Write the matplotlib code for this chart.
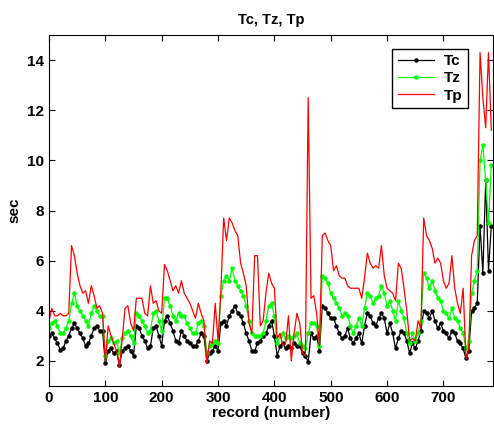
import numpy as np
import matplotlib
matplotlib.use("Agg")
import matplotlib.pyplot as plt

# records sampled every 5
records = np.arange(0, 790, 5)

tc = [3.0, 3.1, 2.9, 2.7, 2.45, 2.5, 2.8, 3.0, 3.3, 3.5, 3.3, 3.1, 2.9, 2.6, 2.7, 3.0, 3.3, 3.4, 3.2, 3.2,
      1.9, 2.4, 2.5, 2.3, 2.4, 1.85, 2.4, 2.5, 2.6, 2.4, 2.2, 3.4, 3.3, 3.0, 2.8, 2.5, 2.6, 3.3, 3.4, 3.0,
      2.6, 3.6, 3.8, 3.5, 3.2, 2.8, 2.7, 3.2, 3.0, 2.8, 2.7, 2.6, 2.6, 2.8, 3.1, 3.0, 2.0, 2.3, 2.4, 2.6,
      2.4, 3.5, 3.6, 3.4, 3.8, 4.0, 4.2, 3.9, 3.8, 3.5, 3.1, 2.8, 2.4, 2.4, 2.7, 2.8, 3.0, 3.1, 3.4, 3.6,
      3.0, 2.2, 2.6, 2.7, 2.5, 2.6, 2.5, 2.7, 2.6, 2.6, 2.3, 2.2, 1.95, 3.1, 2.9, 3.0, 2.4, 4.2, 4.1, 3.9,
      3.7, 3.7, 3.4, 3.1, 2.9, 3.0, 3.3, 2.9, 2.7, 2.9, 3.1, 2.7, 3.4, 3.9, 3.8, 3.5, 3.4, 3.7, 3.9, 3.7,
      3.1, 3.5, 3.1, 2.5, 2.9, 3.2, 3.1, 2.8, 2.3, 2.7, 2.5, 2.8, 3.2, 4.0, 3.9, 3.7, 4.0, 3.6, 3.3, 3.5,
      3.2, 3.1, 2.9, 3.2, 3.1, 2.8, 2.7, 2.5, 2.1, 2.4, 4.0, 4.1, 4.3, 7.4, 5.5, 9.2, 5.6, 7.4]

tz = [3.3, 3.5, 3.6, 3.4, 3.1, 3.1, 3.3, 3.6, 4.3, 4.7, 4.2, 4.0, 3.8, 3.6, 3.4, 3.9, 4.2, 4.0, 3.8, 3.8,
      2.2, 2.8, 2.9, 2.7, 2.8, 2.3, 2.9, 3.1, 3.2, 3.0, 2.7, 3.9, 3.8, 3.6, 3.4, 3.1, 3.2, 3.9, 4.0, 3.6,
      3.2, 4.5, 4.5, 4.2, 3.8, 3.6, 3.9, 3.8, 3.8, 3.5, 3.3, 3.1, 3.1, 3.5, 3.6, 3.4, 2.3, 2.6, 2.7, 2.8,
      2.7, 4.6, 5.2, 5.4, 5.2, 5.7, 5.2, 5.0, 4.8, 4.6, 4.2, 3.6, 3.1, 3.0, 3.0, 3.0, 3.1, 3.6, 4.2, 4.3,
      3.8, 2.7, 3.0, 3.1, 2.9, 3.0, 2.9, 3.0, 3.1, 2.7, 2.6, 2.5, 3.1, 3.5, 3.5, 3.4, 2.6, 5.4, 5.3, 5.1,
      4.7, 4.5, 4.3, 4.1, 3.8, 3.9, 3.8, 3.4, 3.1, 3.4, 3.7, 3.4, 4.1, 4.7, 4.6, 4.3, 4.5, 4.6, 5.0, 4.7,
      4.2, 4.4, 4.0, 3.6, 4.4, 4.0, 3.7, 3.1, 2.7, 3.1, 2.8, 3.1, 3.6, 5.5, 5.3, 4.9, 5.2, 4.8, 4.5, 4.4,
      4.0, 3.9, 3.7, 4.1, 3.7, 3.6, 3.3, 3.1, 2.5, 2.8, 4.7, 5.2, 5.6, 10.0, 10.6, 9.2, 7.5, 9.8]

tp = [3.6, 4.1, 3.8, 3.8, 3.9, 3.8, 3.8, 3.9, 6.6, 6.2, 5.5, 5.0, 4.7, 4.8, 4.3, 5.0, 4.6, 4.1, 4.2, 3.9,
      2.0, 3.4, 3.0, 2.7, 2.4, 1.75, 2.9, 4.1, 4.2, 3.5, 3.2, 4.5, 4.5, 4.5, 3.9, 3.8, 5.0, 4.3, 4.4, 4.0,
      3.9, 5.85, 5.6, 5.2, 4.8, 5.0, 4.7, 5.2, 4.7, 4.5, 4.3, 4.0, 3.7, 4.3, 3.9, 3.6, 1.9, 2.8, 2.7, 4.3,
      2.8, 4.8, 7.7, 6.8, 7.7, 7.5, 7.2, 7.0, 5.9, 5.5, 5.0, 3.5, 3.1, 6.2, 6.2, 3.4, 3.6, 4.7, 5.5, 5.1,
      4.9, 2.9, 3.1, 2.6, 2.7, 3.8, 2.0, 3.1, 3.9, 3.5, 2.3, 2.2, 12.5, 4.5, 4.6, 3.9, 2.6, 7.0, 7.1, 6.8,
      6.6, 5.6, 5.8, 5.4, 5.3, 5.3, 5.0, 4.9, 4.9, 4.9, 4.9, 4.5, 5.3, 6.3, 5.9, 5.7, 5.8, 5.7, 6.6, 5.4,
      4.9, 4.8, 4.7, 4.4, 5.9, 5.7, 4.9, 4.0, 2.8, 2.9, 2.8, 3.6, 3.3, 7.7, 7.0, 6.8, 6.5, 5.9, 6.1, 5.9,
      5.2, 4.9, 5.1, 6.2, 4.9, 4.3, 3.9, 4.9, 2.1, 2.5, 6.2, 6.8, 7.0, 14.3, 12.5, 11.3, 14.3, 11.2]

plt.rcParams['font.family'] = ['Liberation Sans', 'DejaVu Sans']
plt.rcParams['font.weight'] = 'bold'

fig = plt.figure(figsize=(4.94, 4.29), dpi=100)
ax = fig.add_axes([0.0992, 0.1002, 0.8988, 0.8182])

ax.plot(records, tc, color='black', marker='.', markersize=4.5, linewidth=0.9, label='Tc')
ax.plot(records, tz, color=(0, 1, 0), marker='.', markersize=4.5, linewidth=0.9, label='Tz')
ax.plot(records, tp, color='red', linewidth=0.9, label='Tp')

ax.set_xlim(0, 788)
ax.set_ylim(1, 15)
ax.set_xticks(range(0, 800, 100))
ax.set_yticks(range(2, 16, 2))
ax.tick_params(direction='in', top=True, right=True, length=4, labelsize=11, width=0.8)
for lbl in ax.get_xticklabels() + ax.get_yticklabels():
    lbl.set_fontweight('bold')

ax.set_title('Tc, Tz, Tp', fontsize=10.5, fontweight='bold', pad=8)
ax.set_xlabel('record (number)', fontsize=11, fontweight='bold', labelpad=1)
ax.set_ylabel('sec', fontsize=11, fontweight='bold', labelpad=4)

leg = ax.legend(loc='upper right', bbox_to_anchor=(0.96, 0.983), fancybox=False,
                edgecolor='black', framealpha=1, prop={'weight': 'bold', 'size': 11},
                handlelength=2.4, borderpad=0.35, labelspacing=0.22, handletextpad=0.6)
leg.get_frame().set_linewidth(1)

fig.savefig('out.png', dpi=100)
